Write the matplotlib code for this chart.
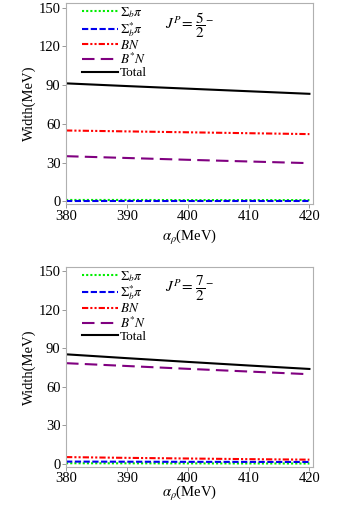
import matplotlib
matplotlib.use("Agg")
import matplotlib.pyplot as plt

plt.rcParams['font.family'] = ['Liberation Serif', 'DejaVu Serif']
plt.rcParams['mathtext.fontset'] = 'stix'

alpha = [380, 390, 400, 410, 420]

# J^P = 5/2^-
top_sigb = [1.0, 1.0, 0.9, 0.9, 0.9]
top_sigbs = [0.3, 0.3, 0.3, 0.3, 0.3]
top_bn = [54.8, 54.1, 53.4, 52.7, 52.0]
top_bsn = [34.9, 33.5, 32.1, 30.8, 29.5]
top_total = [91.3, 89.2, 87.2, 85.2, 83.2]

# J^P = 7/2^-
bot_sigb = [0.5, 0.45, 0.4, 0.35, 0.3]
bot_sigbs = [1.8, 1.7, 1.6, 1.55, 1.5]
bot_bn = [5.3, 4.7, 4.2, 3.7, 3.3]
bot_bsn = [78.4, 76.2, 74.0, 71.9, 69.8]
bot_total = [85.3, 82.3, 79.4, 76.6, 73.9]

labels = [r'$\Sigma_b\pi$', r'$\Sigma_b^{*}\pi$', r'$BN$', r'$B^{*}N$', 'Total']
jp_labels = [r'$J^P\!=\,\dfrac{5}{2}^{\!-}$', r'$J^P\!=\,\dfrac{7}{2}^{\!-}$']
yticks = [0, 30, 60, 90, 120, 150]
xticks = [380, 390, 400, 410, 420]

styles = [
    dict(color='#00ee00', linestyle=(0, (1, 1))),
    dict(color='#0000ee', linestyle=(0, (3, 1.2))),
    dict(color='#ff0000', linestyle=(0, (3, 1, 1, 1, 1, 1))),
    dict(color='#800080', linestyle=(0, (6, 3))),
    dict(color='black', linestyle='-'),
]

fig = plt.figure(figsize=(3.37, 5.08), dpi=100)
ax1 = fig.add_axes([0.196, 0.598, 0.733, 0.396])
ax2 = fig.add_axes([0.196, 0.081, 0.733, 0.394])

datasets = [
    (ax1, [top_sigb, top_sigbs, top_bn, top_bsn, top_total], jp_labels[0], 4),
    (ax2, [bot_sigb, bot_sigbs, bot_bn, bot_bsn, bot_total], jp_labels[1], -1),
]

for ax, series, jp, xlpad in datasets:
    for vals, lab, st in zip(series, labels, styles):
        ax.plot(alpha, vals, label=lab, linewidth=1.5, **st)
    ax.set_xlim(380, 420.6)
    ax.set_ylim(-2.3, 153.5)
    ax.set_xticks(xticks)
    ax.set_yticks(yticks)
    for sp in ax.spines.values():
        sp.set_color('#b0b0b0')
        sp.set_linewidth(0.8)
    ax.tick_params(direction='out', length=3, width=0.6, color='#888888',
                   labelsize=10.5, pad=1)
    ax.set_ylabel('Width(MeV)', fontsize=10.5, labelpad=2)
    ax.set_xlabel(r'$\alpha_\rho$(MeV)', fontsize=10.5, labelpad=xlpad)
    leg = ax.legend(loc='upper left', bbox_to_anchor=(0.065, 0.99), frameon=False,
                    fontsize=9.5, handlelength=2.7, handletextpad=0.15,
                    labelspacing=0.0, borderaxespad=0, borderpad=0)
    ax.text(0.40, 0.89, jp, transform=ax.transAxes, fontsize=11, va='center')

fig.savefig('out.png', dpi=100)
